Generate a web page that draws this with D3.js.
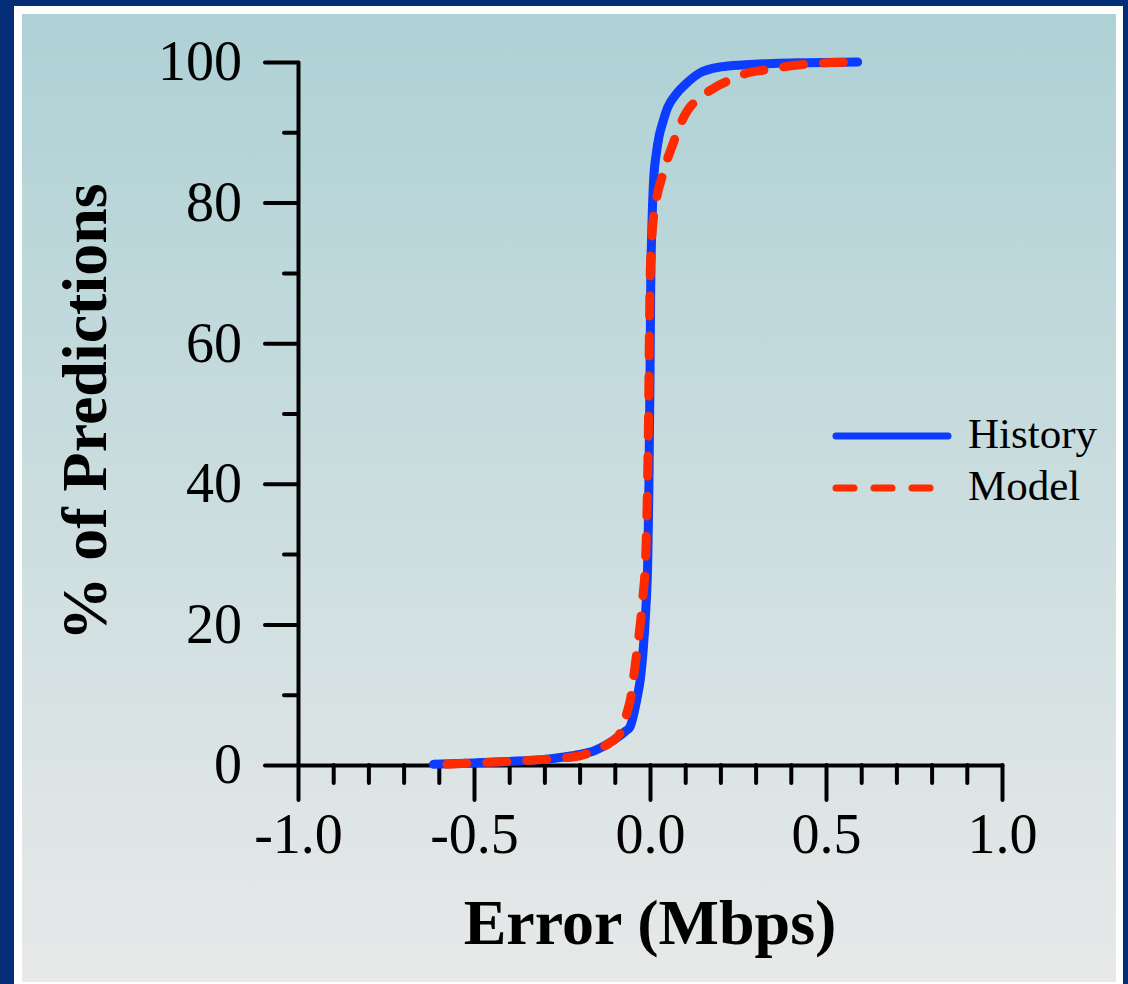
<!DOCTYPE html>
<html>
<head>
<meta charset="utf-8">
<script src="https://cdn.jsdelivr.net/npm/d3@7"></script>
<style>
  html, body { margin: 0; padding: 0; background: #062d78; }
  svg { display: block; }
</style>
</head>
<body>
<svg id="chart" width="1128" height="984"></svg>
<script>
// ---- Data ----
const historyX = [-0.615, -0.5, -0.4, -0.3, -0.25, -0.2, -0.16, -0.12, -0.09, -0.07, -0.057, -0.045, -0.035, -0.028, -0.02, -0.012, -0.006, -0.003, 0, 0.002, 0.005, 0.01, 0.018, 0.026, 0.034, 0.05, 0.077, 0.1, 0.14, 0.2, 0.27, 0.35, 0.45, 0.59];
const historyY = [0.1, 0.3, 0.5, 0.8, 1.1, 1.5, 2.0, 3.0, 4.0, 4.8, 5.4, 7.5, 10, 12, 16, 22, 30, 40, 55, 68, 76, 83, 87, 89.5, 91, 93.5, 95.6, 96.8, 98.4, 99.3, 99.6, 99.8, 99.9, 100];
const modelX = [-0.577, -0.5, -0.4, -0.3, -0.25, -0.2, -0.14, -0.11, -0.085, -0.065, -0.055, -0.048, -0.04, -0.03, -0.02, -0.012, -0.007, -0.004, -0.002, 0, 0.004, 0.01, 0.02, 0.034, 0.048, 0.062, 0.085, 0.108, 0.145, 0.185, 0.23, 0.275, 0.33, 0.378, 0.45, 0.577];
const modelY = [0.1, 0.3, 0.5, 0.8, 1.0, 1.3, 2.4, 3.3, 4.5, 7.5, 9.5, 12, 15, 19, 24, 30, 40, 50, 60, 68, 74, 78, 81, 83.6, 86, 87.9, 91, 93.2, 95, 96.4, 97.5, 98.4, 98.9, 99.3, 99.7, 100];

const xMajorTicks = [-1.0, -0.5, 0.0, 0.5, 1.0];
const xMinorTicks = [-0.9, -0.8, -0.7, -0.6, -0.4, -0.3, -0.2, -0.1, 0.1, 0.2, 0.3, 0.4, 0.6, 0.7, 0.8, 0.9];
const yMajorTicks = [0, 20, 40, 60, 80, 100];
const yMinorTicks = [10, 30, 50, 70, 90];
const seriesNames = ["History", "Model"];
const xTitle = "Error (Mbps)";
const yTitle = "% of Predictions";

// ---- Drawing ----
const svg = d3.select("#chart");
const W = 1128, H = 984;

const defs = svg.append("defs");
const grad = defs.append("linearGradient").attr("id", "bg").attr("x1", 0).attr("y1", 0).attr("x2", 0).attr("y2", 1);
grad.append("stop").attr("offset", "0%").attr("stop-color", "#aed1d5");
grad.append("stop").attr("offset", "100%").attr("stop-color", "#e8e9e9");

svg.append("rect").attr("width", W).attr("height", H).attr("fill", "#062d78");
svg.append("rect").attr("x", 14).attr("y", 6).attr("width", 1123 - 14).attr("height", H - 6).attr("fill", "#ffffff");
svg.append("rect").attr("x", 22).attr("y", 14).attr("width", 1116 - 22).attr("height", 982 - 14).attr("fill", "url(#bg)");

const x = d3.scaleLinear().domain([-1, 1]).range([298, 1002]);
const y = d3.scaleLinear().domain([0, 100]).range([765, 62]);

const serif = "'Liberation Serif', 'Times New Roman', Times, serif";

function styleAxis(g) {
  g.selectAll("path.domain").attr("stroke", "#000").attr("stroke-width", 4).attr("stroke-linecap", "round");
  g.selectAll(".tick line").attr("stroke", "#000").attr("stroke-width", 4).attr("stroke-linecap", "round");
  g.selectAll(".tick text").attr("fill", "#000").style("font-family", serif).style("font-size", "56px");
}

// Minor axes
svg.append("g").attr("transform", `translate(0,${y(0)})`)
  .call(d3.axisBottom(x).tickValues(xMinorTicks).tickSize(18).tickSizeOuter(0).tickFormat(""))
  .call(styleAxis).call(g => g.select("path.domain").remove());
svg.append("g").attr("transform", `translate(${x(-1)},0)`)
  .call(d3.axisLeft(y).tickValues(yMinorTicks).tickSize(14).tickSizeOuter(0).tickFormat(""))
  .call(styleAxis).call(g => g.select("path.domain").remove());

// Major axes
svg.append("g").attr("transform", `translate(0,${y(0)})`)
  .call(d3.axisBottom(x).tickValues(xMajorTicks).tickSize(35).tickSizeOuter(0).tickPadding(13).tickFormat(d3.format(".1f")))
  .call(styleAxis)
  .call(g => g.selectAll(".tick text").text(d => d3.format(".1f")(d).replace("−", "-")));
svg.append("g").attr("transform", `translate(${x(-1)},0)`)
  .call(d3.axisLeft(y).tickValues(yMajorTicks).tickSize(33).tickSizeOuter(0).tickPadding(23).tickFormat(d3.format("d")))
  .call(styleAxis);

// Curves
const line = d3.line().x(d => x(d[0])).y(d => y(d[1])).curve(d3.curveMonotoneX);
const histData = historyX.map((v, i) => [v, historyY[i]]);
const modelData = modelX.map((v, i) => [v, modelY[i]]);

const blue = "#0c3cff", red = "#ff2a00";
svg.append("path").datum(histData).attr("d", line)
  .attr("fill", "none").attr("stroke", blue).attr("stroke-width", 9)
  .attr("stroke-linecap", "round").attr("stroke-linejoin", "round");
svg.append("path").datum(modelData).attr("d", line)
  .attr("fill", "none").attr("stroke", red).attr("stroke-width", 9)
  .attr("stroke-linecap", "round").attr("stroke-linejoin", "round")
  .attr("stroke-dasharray", "20 20");

// Legend
const legend = svg.append("g");
legend.append("line").attr("x1", 836).attr("x2", 948).attr("y1", 436).attr("y2", 436)
  .attr("stroke", blue).attr("stroke-width", 7).attr("stroke-linecap", "round");
legend.append("line").attr("x1", 836).attr("x2", 948).attr("y1", 488).attr("y2", 488)
  .attr("stroke", red).attr("stroke-width", 7).attr("stroke-linecap", "round")
  .attr("stroke-dasharray", "18 20");
legend.selectAll("text.leg").data(seriesNames).enter().append("text")
  .attr("x", 968).attr("y", (d, i) => 448 + i * 52)
  .style("font-family", serif).style("font-size", "43px").attr("fill", "#000")
  .text(d => d);

// Titles
svg.append("text").attr("x", 650).attr("y", 944).attr("text-anchor", "middle")
  .style("font-family", serif).style("font-size", "64px").style("font-weight", "bold").attr("fill", "#000")
  .text(xTitle);
svg.append("text").attr("transform", "translate(106,412) rotate(-90)").attr("text-anchor", "middle")
  .style("font-family", serif).style("font-size", "64px").style("font-weight", "bold").attr("fill", "#000")
  .text(yTitle);
</script>
</body>
</html>
